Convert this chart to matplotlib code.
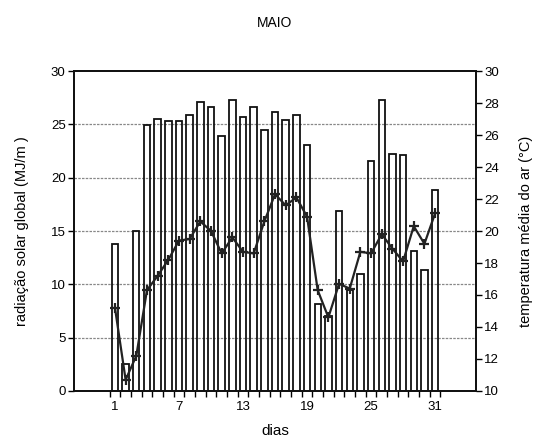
import matplotlib
matplotlib.use('Agg')
from matplotlib import pyplot as plt
from matplotlib.ticker import MultipleLocator

plt.rcParams['font.family'] = ['Liberation Sans', 'DejaVu Sans']

# dias do mês de maio
dias = list(range(1, 32))
# radiação solar global diária (MJ/m2)
radiacao = [13.8, 2.5, 15.0, 24.9, 25.5, 25.3, 25.3, 25.9, 27.1, 26.6,
            23.9, 27.3, 25.7, 26.6, 24.5, 26.2, 25.4, 25.9, 23.1, 8.2,
            7.0, 16.9, 9.5, 11.0, 21.6, 27.3, 22.2, 22.1, 13.1, 11.3, 18.8]
# temperatura média do ar (°C)
temperatura = [15.2, 10.7, 12.2, 16.3, 17.2, 18.2, 19.4, 19.5, 20.6, 20.0,
               18.6, 19.6, 18.7, 18.6, 20.6, 22.3, 21.6, 22.1, 20.9, 16.3,
               14.6, 16.7, 16.4, 18.7, 18.6, 19.8, 18.9, 18.1, 20.3, 19.2, 21.1]
dias_rotulo = [1, 7, 13, 19, 25, 31]

fig = plt.figure(figsize=(5.4, 4.43), dpi=100)
ax = fig.add_axes([0.137, 0.1174, 0.7444, 0.7223])

# grade horizontal tracejada
for g in [5, 10, 15, 20, 25]:
    ax.axhline(g, color='#888888', linewidth=0.9, linestyle=(0, (2, 1)), zorder=1)

ax.bar(dias, radiacao, width=0.6, facecolor='none', edgecolor='#111111',
       linewidth=1.3, zorder=2)

ax.set_xlim(-2.84, 34.83)
ax.set_ylim(0, 30)
ax.yaxis.set_major_locator(MultipleLocator(5))
ax.set_xticks(dias_rotulo)
ax.set_xticklabels([str(d) for d in dias_rotulo])
ax.set_xticks([d + 0.5 for d in range(0, 32)], minor=True)
ax.tick_params(axis='x', which='major', length=0, labelsize=9.5, pad=7)
ax.tick_params(axis='x', which='minor', length=4, width=1, direction='out')
ax.tick_params(axis='y', length=4, width=1, labelsize=9.5, direction='out', pad=2)
for s in ax.spines.values():
    s.set_linewidth(1.3)
    s.set_color('#111111')

ax.set_xlabel('dias', fontsize=11, labelpad=8)
ax.set_ylabel('radiação solar global (MJ/m )', fontsize=10.5, labelpad=16)
ax.set_title('MAIO', fontsize=10, pad=32)

# eixo da temperatura
ax2 = ax.twinx()
ax2.plot(dias, temperatura, color='#222222', linewidth=1.6, marker='+',
         markersize=7, markeredgewidth=1.6, zorder=3)
ax2.set_ylim(10, 30)
ax2.yaxis.set_major_locator(MultipleLocator(2))
ax2.tick_params(axis='y', length=4, width=1, labelsize=9.5, direction='out', pad=2)
ax2.set_ylabel('temperatura média do ar (°C)', fontsize=10.5, labelpad=14)
for s in ax2.spines.values():
    s.set_linewidth(1.3)
    s.set_color('#111111')

plt.savefig('out.png', dpi=100)
